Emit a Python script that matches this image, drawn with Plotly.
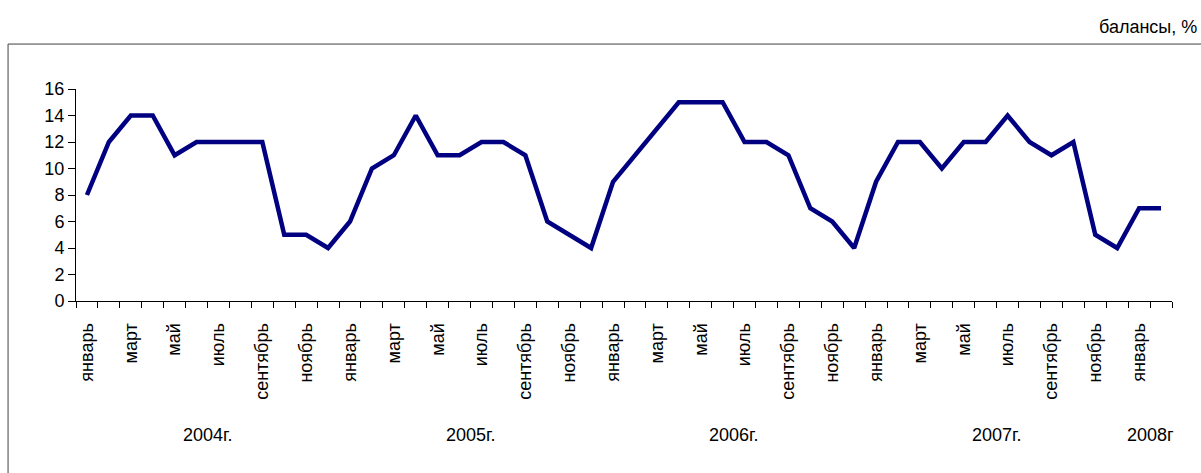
import plotly.graph_objects as go

# monthly balances, Jan 2004 - Feb 2008
years = ["2004г.", "2005г.", "2006г.", "2007г.", "2008г"]
month_names = ["январь", "февраль", "март", "апрель", "май", "июнь",
               "июль", "август", "сентябрь", "октябрь", "ноябрь", "декабрь"]
months_per_year = [12, 12, 12, 12, 2]

values = [8, 12, 14, 14, 11, 12, 12, 12, 12, 5, 5, 4,
          6, 10, 11, 14, 11, 11, 12, 12, 11, 6, 5, 4,
          9, 11, 13, 15, 15, 15, 12, 12, 11, 7, 6, 4,
          9, 12, 12, 10, 12, 12, 14, 12, 11, 12, 5, 4,
          7, 7]

y_ticks = [0, 2, 4, 6, 8, 10, 12, 14, 16]
unit_label = "балансы, %"

FONT = "Liberation Sans, Arial, sans-serif"

labels = []
for n in months_per_year:
    labels += month_names[:n]
idx = list(range(len(values)))

fig = go.Figure()
fig.add_trace(go.Scatter(x=idx, y=values, mode="lines",
                         line=dict(color="#000080", width=4.5),
                         hoverinfo="skip", showlegend=False))

# year labels under the month names, centred on each year's months
start = 0
for yr, n in zip(years, months_per_year):
    fig.add_annotation(x=start + (n - 1) / 2, y=-0.63, xref="x", yref="paper",
                       yanchor="middle", text=yr, showarrow=False,
                       font=dict(size=18, family=FONT, color="black"))
    start += n

# unit label, top right (pixel position converted to paper coords)
fig.add_annotation(x=(1199 - 76) / 1096, y=(301 - 27) / 212, xref="paper", yref="paper",
                   text=unit_label, showarrow=False, xanchor="right", yanchor="middle",
                   font=dict(size=18, family=FONT, color="black"))

# outer frame
fig.add_shape(type="rect", xref="paper", yref="paper",
              x0=-0.062, x1=1.04, y0=-1.0, y1=1.212,
              line=dict(color="#404040", width=1), layer="below")

fig.update_layout(
    width=1201, height=473,
    margin=dict(l=76, r=29, t=89, b=172),
    plot_bgcolor="white", paper_bgcolor="white",
    font=dict(family=FONT, size=18, color="black"),
    xaxis=dict(range=[-0.5, len(values) - 0.5],
               tickvals=idx[::2], ticktext=labels[::2], tickangle=-90,
               ticks="", showgrid=False, zeroline=False,
               showline=True, linecolor="black", linewidth=1,
               ticklabelstandoff=14,
               minor=dict(tickvals=[i - 0.5 for i in range(len(values) + 1)],
                          ticks="outside", ticklen=6, tickcolor="black", showgrid=False)),
    yaxis=dict(range=[0, 16], tickvals=y_ticks, ticks="outside", ticklen=7,
               tickcolor="black", showgrid=False, zeroline=False,
               showline=True, linecolor="black", linewidth=1),
)

# drop the default body margin so the chart sits at the page corner
fig.write_html("out.html", config={"displayModeBar": False},
               post_script="document.body.style.margin='0';")
